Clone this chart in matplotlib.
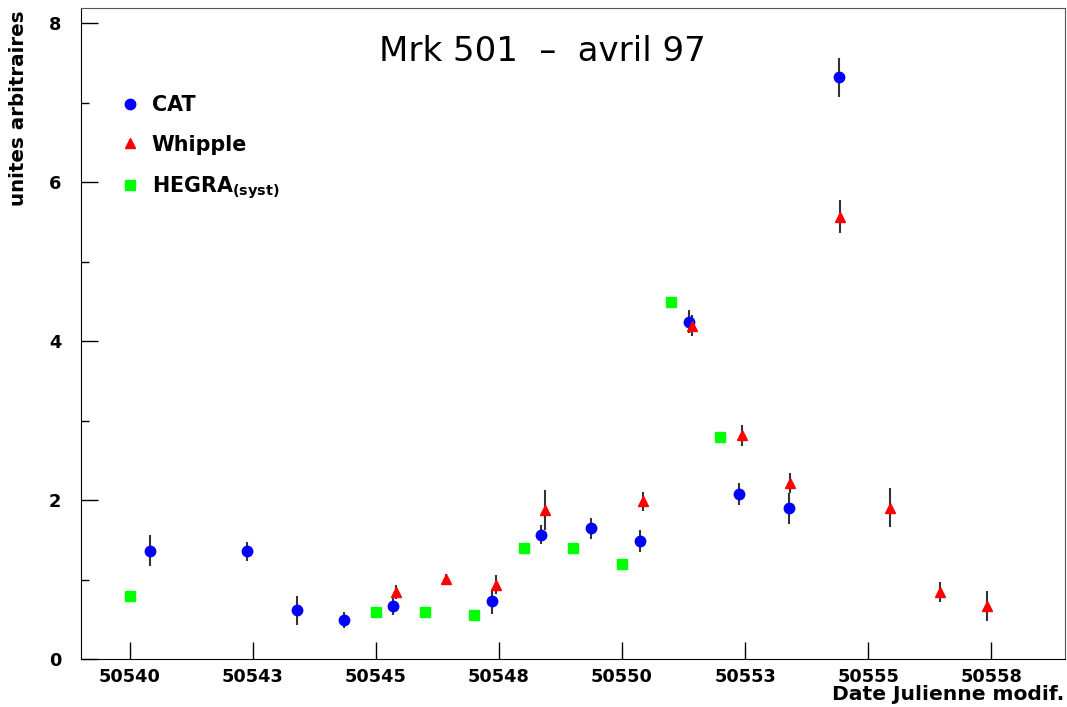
import matplotlib
matplotlib.use("Agg")
import matplotlib.pyplot as plt
from matplotlib.lines import Line2D
from matplotlib.ticker import MultipleLocator

# CAT
cat_mjd = [50540.40, 50542.37, 50543.40, 50544.36, 50545.35, 50547.36,
           50548.36, 50549.37, 50550.37, 50551.37, 50552.38, 50553.40, 50554.40]
cat_flux = [1.37, 1.36, 0.62, 0.50, 0.67, 0.73, 1.57, 1.65, 1.49, 4.25, 2.08, 1.90, 7.32]
cat_err = [0.20, 0.12, 0.18, 0.10, 0.11, 0.16, 0.12, 0.13, 0.14, 0.14, 0.14, 0.20, 0.25]

# Whipple
whi_mjd = [50545.41, 50546.42, 50547.44, 50548.44, 50550.42, 50551.42,
           50552.43, 50553.42, 50554.43, 50555.45, 50556.46, 50557.41]
whi_flux = [0.85, 1.01, 0.94, 1.88, 1.99, 4.20, 2.82, 2.22, 5.57, 1.91, 0.85, 0.67]
whi_err = [0.09, 0.07, 0.12, 0.25, 0.12, 0.13, 0.13, 0.12, 0.21, 0.25, 0.13, 0.19]

# HEGRA (syst)
heg_mjd = [50540.0, 50545.0, 50546.0, 50547.0, 50548.0, 50549.0, 50550.0, 50551.0, 50552.0]
heg_flux = [0.80, 0.60, 0.60, 0.56, 1.40, 1.40, 1.20, 4.50, 2.80]

xtick_pos = [50540, 50542.5, 50545, 50547.5, 50550, 50552.5, 50555, 50557.5]
xtick_lab = ["50540", "50543", "50545", "50548", "50550", "50553", "50555", "50558"]

fig = plt.figure(figsize=(10.67, 7.07), dpi=100)
ax = fig.add_axes([0.0756, 0.0672, 0.9225, 0.9211])

ecol = "#333333"
ax.errorbar(cat_mjd, cat_flux, yerr=cat_err, fmt="o", color="#0000ff",
            ecolor=ecol, elinewidth=1.5, capsize=0, markersize=7.5, zorder=3)
ax.errorbar(whi_mjd, whi_flux, yerr=whi_err, fmt="^", color="#ff0000",
            ecolor=ecol, elinewidth=1.5, capsize=0, markersize=7.5, zorder=3)
ax.plot(heg_mjd, heg_flux, "s", color="#00ff00", markersize=7.5, zorder=3)

ax.set_xlim(50539.0, 50559.0)
ax.set_ylim(0, 8.19)
ax.set_xticks(xtick_pos)
ax.set_xticklabels(xtick_lab)
ax.yaxis.set_major_locator(MultipleLocator(2))
ax.yaxis.set_minor_locator(MultipleLocator(1))
ax.tick_params(axis="both", which="major", direction="in", length=12, width=1,
               labelsize=12.8)
ax.tick_params(axis="y", which="minor", direction="in", length=6, width=1)
ax.tick_params(axis="y", pad=14)
ax.tick_params(axis="x", pad=6)
for lab in ax.get_xticklabels() + ax.get_yticklabels():
    lab.set_fontweight("bold")

for s in ["top", "right"]:
    ax.spines[s].set_color("#555555")

ax.text(0.469, 0.933, "Mrk 501  \u2013  avril 97", transform=ax.transAxes,
        ha="center", va="center", fontsize=24.5)

fig.text(0.017, 0.986, "unites arbitraires", rotation=90, ha="center", va="top",
         fontsize=14.3, fontweight="bold")
fig.text(0.998, 0.004, "Date Julienne modif.", ha="right", va="bottom",
         fontsize=14.6, fontweight="bold")

handles = [
    Line2D([], [], ls="none", marker="o", color="#0000ff", markersize=7.5, label="CAT"),
    Line2D([], [], ls="none", marker="^", color="#ff0000", markersize=7.5, label="Whipple"),
    Line2D([], [], ls="none", marker="s", color="#00ff00", markersize=7.5,
           label=r"HEGRA$_{\mathbf{(syst)}}$"),
]
ax.legend(handles=handles, loc="upper left",
          bbox_to_anchor=(0.0375, 0.867), frameon=False,
          prop={"size": 14.9, "weight": "bold"},
          handlelength=1.2, handletextpad=0.45, labelspacing=0.95,
          borderpad=0, borderaxespad=0)

fig.savefig("out.png", dpi=100)
